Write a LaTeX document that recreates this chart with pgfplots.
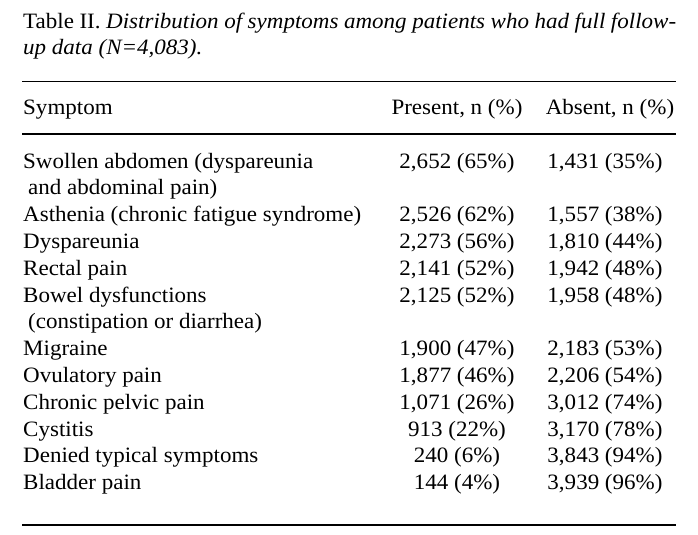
\documentclass[border=0pt]{standalone}
\usepackage{fontspec}
\setmainfont[FakeStretch=1.05]{Liberation Serif}
\usepackage{pgfplots}
\usepackage{pgfplotstable}
\pgfplotsset{compat=1.18}

% k = text line index (wrapped labels take two lines)
\pgfplotstableread[col sep=semicolon]{
k;present;ppct;absent;apct
0;2652;65;1431;35
2;2526;62;1557;38
3;2273;56;1810;44
4;2141;52;1942;48
5;2125;52;1958;48
7;1900;47;2183;53
8;1877;46;2206;54
9;1071;26;3012;74
10;913;22;3170;78
11;240;6;3843;94
12;144;4;3939;96
}\symptoms

\newcommand{\tf}{\fontsize{22}{27}\selectfont}

\begin{document}
\begin{tikzpicture}
\begin{axis}[
  scale only axis, width=698bp, height=535bp,
  xmin=0, xmax=698, ymin=0, ymax=535, y dir=reverse,
  axis lines=none, clip=false,
  /pgf/number format/assume math mode=true,
  every node near coord/.append style={anchor=base, font=\tf, inner sep=0pt, text=black},
]
\path (rel axis cs:0,0) rectangle (rel axis cs:1,1);

% rules
\addplot[black, line width=1.5bp, forget plot] coordinates {(22,81.5) (676,81.5)};
\addplot[black, line width=1.5bp, forget plot] coordinates {(22,134) (676,134)};
\addplot[black, line width=1.5bp, forget plot] coordinates {(22,525) (676,525)};

% Present column
\addplot[draw=none, mark=none, forget plot,
  point meta=explicit symbolic,
  visualization depends on={\thisrow{ppct}\as\pct},
  nodes near coords={\pgfmathprintnumber[fixed,precision=0,1000 sep={,}]{\pgfplotspointmeta}~(\pgfmathprintnumber[fixed,precision=0]{\pct}\%)},
] table[x expr=457, y expr={168+26.8*\thisrow{k}}, meta=present] {\symptoms};

% Absent column
\addplot[draw=none, mark=none, forget plot,
  point meta=explicit symbolic,
  visualization depends on={\thisrow{apct}\as\pct},
  nodes near coords={\pgfmathprintnumber[fixed,precision=0,1000 sep={,}]{\pgfplotspointmeta}~(\pgfmathprintnumber[fixed,precision=0]{\pct}\%)},
] table[x expr=605, y expr={168+26.8*\thisrow{k}}, meta=absent] {\symptoms};

% title
\node[anchor=base west, inner sep=0pt, font=\tf] at (axis cs:23,29)
  {\makebox[653bp][s]{Table II. \textit{Distribution of symptoms among patients who had full follow-}}};
\node[anchor=base west, inner sep=0pt, font=\tf] at (axis cs:23,54.5)
  {\textit{up data (N=4,083).}};

% header
\node[anchor=base west, inner sep=0pt, font=\tf] at (axis cs:23,114) {Symptom};
\node[anchor=base, inner sep=0pt, font=\tf] at (axis cs:457,114) {Present, n (\%)};
\node[anchor=base, inner sep=0pt, font=\tf] at (axis cs:610,114) {Absent, n (\%)};

% symptom labels (baselines 168 + 26.8 k)
\begin{scope}[every node/.style={anchor=base west, inner sep=0pt, font=\tf}]
\node at (axis cs:23,168) {Swollen abdomen (dyspareunia};
\node at (axis cs:28,194.8) {and abdominal pain)};
\node at (axis cs:23,221.6) {Asthenia (chronic fatigue syndrome)};
\node at (axis cs:23,248.4) {Dyspareunia};
\node at (axis cs:23,275.2) {Rectal pain};
\node at (axis cs:23,302) {Bowel dysfunctions};
\node at (axis cs:28,328.8) {(constipation or diarrhea)};
\node at (axis cs:23,355.6) {Migraine};
\node at (axis cs:23,382.4) {Ovulatory pain};
\node at (axis cs:23,409.2) {Chronic pelvic pain};
\node at (axis cs:23,436) {Cystitis};
\node at (axis cs:23,462.8) {Denied typical symptoms};
\node at (axis cs:23,489.6) {Bladder pain};
\end{scope}
\end{axis}
\end{tikzpicture}
\end{document}
